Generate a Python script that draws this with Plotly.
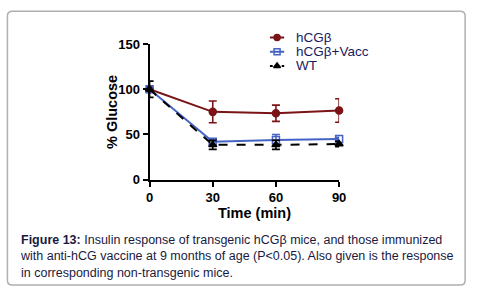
import plotly.graph_objects as go

W, H = 478, 302

time_min = [0, 30, 60, 90]
x_ticks = [0, 30, 60, 90]
y_ticks = [0, 50, 100, 150]

series_names = ["hCGβ", "hCGβ+Vacc", "WT"]
hcg_mean = [100, 75, 73.5, 76.5]
hcg_err = [0, 12, 9, 13]
vacc_mean = [100, 42, 44, 45]
vacc_err = [0, 3, 6, 2]
wt_mean = [100, 38.5, 38.5, 39.5]
wt_err = [9, 5, 5, 3]

colors = ["#7a1416", "#4563c4", "#000000"]
symbols = ["circle", "square-open", "triangle-up"]
dashes = ["solid", "solid", "dash"]


def px(x):
    return x / W


def py(y):
    return 1 - y / H


fig = go.Figure()

means = [hcg_mean, vacc_mean, wt_mean]
errs = [hcg_err, vacc_err, wt_err]
for name, m, e, c, s, d in zip(series_names, means, errs, colors, symbols, dashes):
    fig.add_trace(go.Scatter(
        x=time_min, y=m, mode="lines+markers", name=name,
        line=dict(color=c, width=2, dash=d),
        marker=dict(color=c, symbol=s, size=7,
                    line=dict(color=c, width=1.5)),
        error_y=dict(type="data", array=e, visible=True, color=c,
                     thickness=1.6, width=4),
        cliponaxis=False, showlegend=False,
    ))

# manual legend drawn on its own small axes
leg_rows = [-32, -47, -62]
for name, c, s, d, r in zip(series_names, colors, symbols, dashes, leg_rows):
    fig.add_trace(go.Scatter(
        x=[0, 0.5, 1], y=[r, r, r], mode="lines", xaxis="x2", yaxis="y2",
        line=dict(color=c, width=2, dash="dot" if d == "dash" else "solid"),
        showlegend=False, hoverinfo="skip", cliponaxis=False,
    ))
    fig.add_trace(go.Scatter(
        x=[0.5], y=[r], mode="markers", xaxis="x2", yaxis="y2",
        marker=dict(color=c, symbol=s, size=6, line=dict(color=c, width=1.5)),
        showlegend=False, hoverinfo="skip", cliponaxis=False,
    ))

axis_common = dict(
    showline=True, linecolor="black", linewidth=2,
    ticks="outside", ticklen=5, tickwidth=2, tickcolor="black",
    showgrid=False, zeroline=False,
    tickfont=dict(family="Arial, Liberation Sans", size=13, color="black", weight="bold"),
)

fig.update_layout(
    width=W, height=H, autosize=False,
    margin=dict(l=0, r=0, t=0, b=0),
    paper_bgcolor="white", plot_bgcolor="white",
    xaxis=dict(domain=[px(149), px(343)], range=[0, 90], tickvals=x_ticks,
               anchor="y", **axis_common),
    yaxis=dict(domain=[py(181.7), py(39)], range=[0, 150], tickvals=y_ticks,
               anchor="x", **axis_common),
    xaxis2=dict(domain=[px(272), px(287)], range=[0, 1], visible=False, anchor="y2"),
    yaxis2=dict(domain=[py(70), py(24)], range=[-70, -24], visible=False, anchor="x2"),
)

leg_font = dict(family="Arial, Liberation Sans", size=13.5, color="#1a1a5e")
for name, r in zip(series_names, leg_rows):
    fig.add_annotation(x=px(297), y=py(-r), xref="paper", yref="paper",
                       text=name, showarrow=False, xanchor="left", yanchor="middle",
                       font=leg_font)

title_font = dict(family="Arial, Liberation Sans", size=14.5, color="black", weight="bold")
fig.add_annotation(x=px(256), y=py(217), xref="paper", yref="paper",
                   text="<b>Time (min)</b>", showarrow=False,
                   xanchor="center", yanchor="middle", font=title_font)
fig.add_annotation(x=px(110), y=py(110), xref="paper", yref="paper",
                   text="<b>% Glucose</b>", showarrow=False, textangle=-90,
                   xanchor="center", yanchor="middle", font=title_font)

caption = ("<b>Figure 13:</b> Insulin response of transgenic hCGβ mice, and those immunized<br>"
           "with anti-hCG vaccine at 9 months of age (P&lt;0.05). Also given is the response<br>"
           "in corresponding non-transgenic mice.")
fig.add_annotation(x=px(14), y=py(236), xref="paper", yref="paper",
                   text=caption, showarrow=False, xanchor="left", yanchor="top",
                   align="left",
                   font=dict(family="Arial, Liberation Sans", size=12.5, color="#1a1a40"))

# rounded border box
x0, x1, y0, y1, rr = 3.5, 472, 4.5, 292.5, 5
path = (f"M {px(x0 + rr)},{py(y0)} L {px(x1 - rr)},{py(y0)} "
        f"Q {px(x1)},{py(y0)} {px(x1)},{py(y0 + rr)} "
        f"L {px(x1)},{py(y1 - rr)} Q {px(x1)},{py(y1)} {px(x1 - rr)},{py(y1)} "
        f"L {px(x0 + rr)},{py(y1)} Q {px(x0)},{py(y1)} {px(x0)},{py(y1 - rr)} "
        f"L {px(x0)},{py(y0 + rr)} Q {px(x0)},{py(y0)} {px(x0 + rr)},{py(y0)} Z")
fig.add_shape(type="path", path=path, xref="paper", yref="paper",
              line=dict(color="#b0b0b0", width=1.5), layer="below")

fig.write_html(
    "out.html",
    config={"displayModeBar": False},
    post_script="document.body.style.margin='0';",
)
